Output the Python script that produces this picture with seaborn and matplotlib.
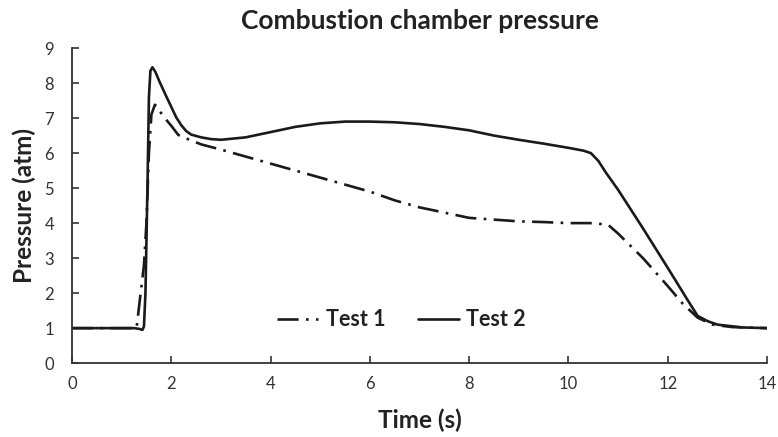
import matplotlib
matplotlib.use("Agg")
import matplotlib.pyplot as plt
import seaborn as sns
import pandas as pd

# Test 1 (dash-dot)
time_test1 = [0, 1.0, 1.3, 1.35, 1.4, 1.45, 1.5, 1.55, 1.6, 1.67, 1.74, 1.81, 1.9, 2.0, 2.14, 2.3, 2.6,
              3.0, 3.5, 4.0, 4.5, 5.0, 5.5, 6.0, 6.5, 7.0, 7.5, 8.0, 8.5, 9.0, 9.5, 10.0, 10.5,
              10.8, 11.0, 11.5, 12.0, 12.3, 12.6, 12.9, 13.3, 14.0]
pressure_test1 = [1.0, 1.0, 1.0, 1.6, 2.2, 2.8, 4.0, 6.0, 7.1, 7.38, 7.3, 7.1, 6.95, 6.78, 6.52, 6.42, 6.25,
                  6.1, 5.9, 5.7, 5.5, 5.3, 5.1, 4.9, 4.65, 4.45, 4.3, 4.15, 4.1, 4.05, 4.03, 4.0, 4.0,
                  3.95, 3.7, 3.0, 2.2, 1.7, 1.3, 1.1, 1.03, 1.0]

# Test 2 (solid)
time_test2 = [0, 0.5, 1.0, 1.25, 1.35, 1.42, 1.45, 1.48, 1.52, 1.55, 1.58, 1.62, 1.68, 1.76, 1.88,
              2.0, 2.1, 2.2, 2.3, 2.4, 2.6, 2.8, 3.0, 3.5, 4.0, 4.5, 5.0, 5.5, 6.0, 6.5, 7.0,
              7.5, 8.0, 8.5, 9.0, 9.5, 10.0, 10.3, 10.45, 10.6, 10.75, 11.0, 11.5, 12.0, 12.4,
              12.6, 12.8, 13.0, 13.5, 14.0]
pressure_test2 = [1.0, 1.0, 1.0, 1.0, 0.98, 0.95, 1.05, 2.0, 5.0, 7.6, 8.35, 8.45, 8.32, 8.05, 7.68,
                  7.32, 7.02, 6.8, 6.63, 6.53, 6.45, 6.4, 6.38, 6.45, 6.6, 6.75, 6.85, 6.9, 6.9, 6.88, 6.83,
                  6.75, 6.65, 6.5, 6.38, 6.27, 6.15, 6.07, 6.0, 5.78, 5.45, 4.95, 3.85, 2.72, 1.8,
                  1.35, 1.2, 1.1, 1.02, 1.0]

series_names = ["Test 1", "Test 2"]
x_ticks = [0, 2, 4, 6, 8, 10, 12, 14]
y_ticks = [0, 1, 2, 3, 4, 5, 6, 7, 8, 9]

df = pd.concat([
    pd.DataFrame({"Time": time_test1, "Pressure": pressure_test1, "Series": series_names[0]}),
    pd.DataFrame({"Time": time_test2, "Pressure": pressure_test2, "Series": series_names[1]}),
], ignore_index=True)

sns.set_style("white")
plt.rcParams["font.family"] = ["Lato", "DejaVu Sans"]

fig = plt.figure(figsize=(7.78, 4.37), dpi=100)
ax = fig.add_axes([0.0925, 0.169, 0.8935, 0.721])

sns.lineplot(data=df, x="Time", y="Pressure", hue="Series", style="Series",
             palette={"Test 1": "#1a1a1a", "Test 2": "#1a1a1a"},
             dashes={"Test 1": (8, 2.8, 1, 2.8), "Test 2": ""},
             linewidth=1.9, sort=False, estimator=None, ax=ax)

ax.set_xlim(0, 14)
ax.set_ylim(0, 9)
ax.set_xticks(x_ticks)
ax.set_yticks(y_ticks)
ax.tick_params(axis="both", labelsize=12, labelcolor="#333333", direction="in",
               length=5, width=1.2, color="#333333")
ax.tick_params(axis="x", pad=9, bottom=True)
ax.tick_params(axis="y", pad=13, left=True)
for s in ["right", "top"]:
    ax.spines[s].set_visible(False)
for s in ["left", "bottom"]:
    ax.spines[s].set_visible(True)
    ax.spines[s].set_color("#333333")
    ax.spines[s].set_linewidth(1.3)

ax.set_xlabel("Time (s)", fontsize=17.5, fontweight="bold", color="#222222", labelpad=12)
ax.set_ylabel("Pressure (atm)", fontsize=17.5, fontweight="bold", color="#222222", labelpad=6)
ax.set_title("Combustion chamber pressure", fontsize=19, fontweight="bold", color="#222222", pad=14)

leg = ax.legend(loc="center", bbox_to_anchor=(0.474, 0.137), ncol=2, frameon=False,
                fontsize=15.5, handlelength=1.9, columnspacing=1.5, handletextpad=0.35)
for t in leg.get_texts():
    t.set_fontweight("bold")
    t.set_color("#222222")

fig.savefig("out.png", dpi=100)
